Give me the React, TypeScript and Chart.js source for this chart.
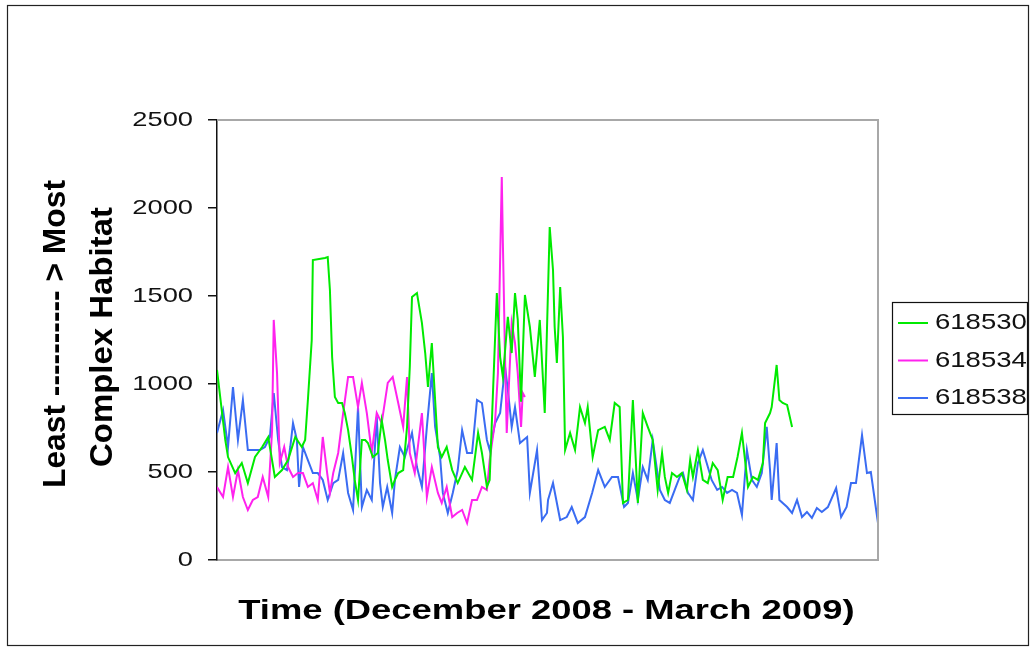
import React, { useEffect, useRef } from "react";
import { Chart, registerables } from "chart.js";

Chart.register(...registerables);

const seriesNames = ["618530", "618534", "618538"];
const seriesColors = ["#00ea00", "#ff22ee", "#3a6cf2"];
const yTickValues = [0, 500, 1000, 1500, 2000, 2500];
const xTitle = "Time (December 2008 - March 2009)";
const yTitleLines = ["Least ---------- > Most", "Complex Habitat"];

// day offsets (days since 1 Dec 2008) and values for each tag
const days530 = [0, 1.5, 2, 3.3, 4.5, 5.6, 6.9, 8.2, 9.3, 10.5, 11.8, 12.9, 14.2, 15.4, 16, 16.5, 17.2, 17.4, 19.6, 20.1, 20.5, 20.9, 21.4, 22, 22.7, 23.2, 23.8, 24.5, 25, 25.6, 26.3, 26.9, 27.4, 28.3, 29.2, 29.9, 30.5, 31, 31.8, 32.3, 32.9, 33.8, 34.5, 35, 35.4, 36.3, 37.2, 37.8, 38.3, 39, 39.6, 40.1, 40.8, 41.7, 42.7, 43.7, 45, 46.3, 47.4, 48.1, 49, 49.5, 50.1, 50.8, 51.4, 51.9, 52.8, 53.5, 54.1, 54.6, 55.2, 55.9, 56.8, 57.7, 58.6, 59.5, 60.4, 61, 61.3, 61.7, 62.3, 62.8, 63.2, 64.1, 65, 65.9, 66.8, 67.3, 68.2, 69.2, 70.4, 71.3, 72.2, 73.1, 73.7, 74.6, 75.5, 76.4, 77.3, 78.2, 79.1, 80, 80.8, 81.3, 81.9, 82.6, 83.5, 84.4, 85.3, 85.9, 86.4, 87.3, 88.2, 89.1, 90, 90.9, 91.8, 92.7, 93.7, 94.5, 95.3, 95.8, 96.4, 97.3, 98.2, 99.1, 99.5, 100.4, 100.7, 101.6, 102.1, 102.7, 103.5, 104.4];
const values530 = [1080, 682, 585, 494, 551, 437, 585, 642, 699, 472, 511, 568, 699, 642, 682, 909, 1250, 1704, 1716, 1721, 1534, 1153, 926, 892, 892, 835, 738, 585, 455, 341, 682, 682, 665, 585, 608, 795, 682, 568, 415, 455, 494, 511, 756, 1097, 1494, 1517, 1347, 1176, 983, 1233, 909, 642, 585, 642, 511, 437, 528, 455, 722, 608, 415, 455, 949, 1517, 1153, 1040, 1381, 1176, 1517, 1364, 900, 1506, 1324, 1040, 1364, 835, 1892, 1648, 1324, 1119, 1551, 1267, 625, 722, 625, 869, 778, 869, 585, 738, 756, 682, 892, 869, 324, 341, 909, 324, 835, 756, 682, 398, 608, 472, 381, 494, 472, 494, 398, 568, 472, 625, 455, 437, 551, 511, 341, 472, 472, 585, 722, 585, 415, 472, 455, 551, 778, 835, 869, 1108, 909, 892, 881, 756];

const days534 = [0, 1.1, 2, 2.9, 3.8, 4.7, 5.6, 6.5, 7.4, 8.3, 9.3, 10, 10.3, 10.9, 11.4, 12.2, 12.9, 13.8, 14.7, 15.6, 16.5, 17.4, 18.3, 19.2, 20, 20.5, 21.1, 22, 22.9, 23.8, 24.7, 25.6, 26.3, 27.2, 28.1, 29, 29.9, 31, 31.9, 32.9, 33.8, 34.5, 35, 35.9, 37.2, 38.1, 39, 40.1, 40.8, 41.7, 42.7, 43.6, 44.5, 45.4, 46.3, 47.2, 48.1, 49, 49.5, 50.5, 51, 51.4, 51.7, 51.9, 52.3, 52.6, 53.2, 53.5, 54.1, 54.6, 55.2, 55.5, 55.9];
const values534 = [415, 358, 528, 358, 511, 358, 284, 341, 358, 472, 358, 738, 1364, 1062, 551, 642, 528, 472, 494, 494, 415, 437, 341, 699, 494, 381, 494, 608, 835, 1040, 1040, 869, 1006, 835, 608, 835, 778, 1006, 1040, 892, 756, 1040, 608, 494, 835, 358, 528, 381, 324, 415, 244, 267, 284, 210, 341, 341, 415, 398, 568, 795, 1062, 1704, 2176, 1801, 1136, 722, 1136, 1347, 1233, 1062, 756, 949, 926];

const days538 = [0, 1.1, 2, 2.9, 3.8, 4.7, 5.6, 6.5, 7.8, 8.7, 9.6, 10.3, 11.1, 11.8, 12.7, 13.3, 13.8, 14.5, 14.9, 15.6, 16.5, 17.4, 18.3, 19.2, 20.1, 21.1, 22, 22.9, 23.8, 24.7, 25.6, 26.3, 27.2, 28.1, 29, 29.6, 30.1, 30.9, 31.8, 32.3, 33.2, 34.1, 35.4, 36.3, 37.2, 38.1, 39, 39.6, 40.5, 41, 41.9, 42.8, 43.7, 44.5, 45.4, 46.3, 47.2, 48.1, 49, 49.5, 50.5, 51.4, 52.3, 52.8, 53.5, 54.1, 55, 56.3, 56.8, 58.1, 59, 59.9, 60.1, 61, 62.3, 63.5, 64.4, 65.5, 66.8, 68.1, 69.2, 70.4, 71.7, 72.8, 73.9, 74.6, 75.5, 76.4, 77.3, 78.2, 79.1, 80.4, 81.3, 82.2, 83.1, 84, 84.6, 85.5, 86.4, 87.3, 88.2, 88.9, 89.8, 90.8, 91.7, 92.6, 93.5, 94.4, 95.3, 96.2, 97.1, 98, 98.9, 99.8, 100.4, 100.7, 101.3, 101.6, 102.1, 103.5, 104.4, 105.3, 106.2, 107.1, 108, 108.9, 109.8, 110.9, 112.4, 113.3, 114.3, 115.1, 116, 117.1, 118, 118.7, 120];
const values538 = [722, 852, 642, 983, 682, 909, 625, 625, 625, 642, 699, 949, 682, 528, 511, 642, 778, 682, 415, 642, 568, 494, 494, 455, 341, 437, 455, 608, 381, 284, 869, 301, 398, 341, 813, 437, 301, 415, 267, 455, 642, 585, 722, 528, 415, 756, 1062, 756, 585, 381, 267, 381, 511, 738, 608, 608, 909, 892, 682, 625, 778, 835, 1097, 966, 756, 869, 665, 699, 381, 625, 227, 267, 341, 437, 227, 244, 301, 210, 244, 381, 511, 415, 472, 472, 301, 324, 494, 341, 528, 455, 682, 398, 341, 324, 398, 472, 494, 381, 341, 551, 625, 551, 455, 398, 415, 381, 398, 381, 256, 625, 455, 415, 494, 756, 511, 341, 551, 665, 341, 301, 267, 341, 244, 273, 239, 295, 273, 301, 409, 244, 301, 437, 437, 710, 494, 500, 210];

const seriesDays = [days530, days534, days538];
const seriesValues = [values530, values534, values538];

const W = 1032;
const H = 649;
const SANS = "'Liberation Sans', Arial, sans-serif";

function drawStretched(ctx: CanvasRenderingContext2D, text: string, x: number, y: number, font: string, align: CanvasTextAlign, sx: number, color: string) {
  ctx.save();
  ctx.translate(x, y);
  ctx.scale(sx, 1);
  ctx.font = font;
  ctx.fillStyle = color;
  ctx.textAlign = align;
  ctx.textBaseline = "middle";
  ctx.fillText(text, 0, 0);
  ctx.restore();
}

function drawRotatedFit(ctx: CanvasRenderingContext2D, text: string, cx: number, cy: number, font: string, targetLen: number) {
  ctx.save();
  ctx.translate(cx, cy);
  ctx.rotate(-Math.PI / 2);
  ctx.font = font;
  const w = ctx.measureText(text).width;
  ctx.scale(targetLen / w, 1);
  ctx.fillStyle = "#000";
  ctx.textAlign = "center";
  ctx.textBaseline = "middle";
  ctx.fillText(text, 0, 0);
  ctx.restore();
}

const decorPlugin = {
  id: "decor",
  afterDraw(chart: any) {
    const ctx: CanvasRenderingContext2D = chart.ctx;
    const { left, right, top, bottom } = chart.chartArea;
    ctx.save();
    // outer frame
    ctx.strokeStyle = "#222";
    ctx.lineWidth = 1.2;
    ctx.strokeRect(7.5, 5.5, 1021, 640);
    // plot frame (top and right)
    ctx.strokeStyle = "#a8a8a8";
    ctx.lineWidth = 2;
    ctx.beginPath();
    ctx.moveTo(left, top);
    ctx.lineTo(right, top);
    ctx.lineTo(right, bottom);
    ctx.stroke();
    ctx.restore();

    // y tick labels
    const yScale = chart.scales.y;
    yScale.ticks.forEach((t: any) => {
      const py = yScale.getPixelForValue(t.value);
      drawStretched(ctx, String(t.value), 193, py, `21px ${SANS}`, "right", 1.3, "#111");
    });

    // axis titles
    drawStretched(ctx, xTitle, (left + right) / 2 - 1, 611, `bold 28px ${SANS}`, "center", 1.3, "#000");
    drawRotatedFit(ctx, yTitleLines[0], 56, 334, `bold 32px ${SANS}`, 308);
    drawRotatedFit(ctx, yTitleLines[1], 103, 337, `bold 32px ${SANS}`, 260);

    // legend
    ctx.save();
    ctx.strokeStyle = "#111";
    ctx.lineWidth = 1.2;
    ctx.strokeRect(892.5, 302.5, 135, 112);
    seriesNames.forEach((name, i) => {
      const ry = 323 + i * 37.5;
      ctx.strokeStyle = seriesColors[i];
      ctx.lineWidth = 2;
      ctx.beginPath();
      ctx.moveTo(898, ry);
      ctx.lineTo(928, ry);
      ctx.stroke();
      drawStretched(ctx, name, 935, ry, `22px ${SANS}`, "left", 1.25, "#111");
    });
    ctx.restore();
  },
};

export default function App() {
  const ref = useRef<HTMLCanvasElement | null>(null);

  useEffect(() => {
    const canvas = ref.current;
    if (!canvas) return;
    const datasets = seriesNames.map((name, i) => ({
      label: name,
      data: seriesDays[i].map((d, k) => ({ x: d, y: seriesValues[i][k] })),
      borderColor: seriesColors[i],
      backgroundColor: seriesColors[i],
      borderWidth: 2,
      pointRadius: 0,
      tension: 0,
      fill: false,
    }));
    const chart = new Chart(canvas, {
      type: "line",
      data: { datasets },
      options: {
        animation: false,
        responsive: false,
        maintainAspectRatio: false,
        layout: { padding: { top: 120, right: 154, left: 0, bottom: 0 } },
        plugins: {
          legend: { display: false },
          tooltip: { enabled: false },
          title: { display: false },
        },
        scales: {
          x: {
            type: "linear",
            min: 0,
            max: 120,
            ticks: { display: false },
            grid: { display: false, drawTicks: false },
            border: { display: true, color: "#a8a8a8", width: 2 },
            afterFit(s: any) {
              s.height = 89;
            },
          },
          y: {
            min: 0,
            max: 2500,
            afterBuildTicks(s: any) {
              s.ticks = yTickValues.map((v) => ({ value: v }));
            },
            ticks: { display: false },
            grid: { drawOnChartArea: false, drawTicks: true, tickLength: 9, color: "#111", lineWidth: 1.5 },
            border: { display: true, color: "#111", width: 1.5 },
            afterFit(s: any) {
              s.width = 217;
            },
          },
        },
      } as any,
      plugins: [decorPlugin],
    });
    return () => chart.destroy();
  }, []);

  return (
    <div style={{ position: "fixed", left: 0, top: 0, width: W, height: H, background: "#fff" }}>
      <canvas ref={ref} width={W} height={H} style={{ width: W, height: H, display: "block" }} />
    </div>
  );
}
